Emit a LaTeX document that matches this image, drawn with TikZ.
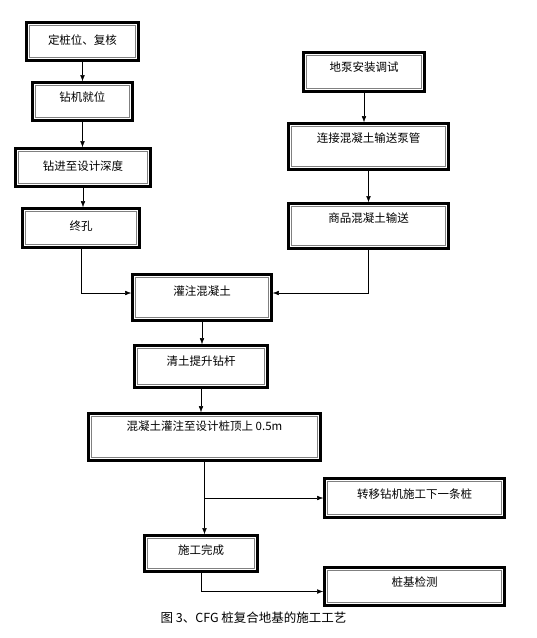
\documentclass[tikz,border=0pt]{standalone}
\usepackage{fontspec}
\newfontfamily\cjk{Noto Sans CJK SC}
\usetikzlibrary{arrows.meta}

\begin{document}
\begin{tikzpicture}[x=1pt, y=-1pt, font=\cjk\fontsize{11.5}{13}\selectfont,
    >={Latex[length=6pt, width=4.5pt]},
    procbox/.style={draw, line width=2.6pt, inner sep=0pt, text height=8.5pt,
      path picture={\draw[black!50, line width=0.9pt]
        ([shift={(3.4pt,3.4pt)}]path picture bounding box.south west) rectangle
        ([shift={(-3.4pt,-3.4pt)}]path picture bounding box.north east);}}]
  \useasboundingbox (0,0) rectangle (537,638);
  % boxes: name/x/y/width/height/text depth/label
  \foreach \n/\x/\y/\w/\h/\d/\t in {
      b1/82.5/41.5/112/38/3/{定桩位、复核},
      b2/82.5/101.5/100/38/8/{钻机就位},
      b3/83/167.5/135/38/3/{钻进至设计深度},
      b4/81/228/117/39/4/{终孔},
      b5/364/72/121/39/9/{地泵安装调试},
      b6/368.5/146.5/160/46/16/{连接混凝土输送泵管},
      b7/368.5/226/160/45/15/{商品混凝土输送},
      b8/202/297.5/139/46/12/{灌注混凝土},
      b9/201/366.5/133/42/10/{清土提升钻杆},
      b10/204.5/437/232/47/21/{混凝土灌注至设计桩顶上 0.5m},
      b11/414.5/498/180/39/7/{转移钻机施工下一条桩},
      b12/201/553.5/113/36/6/{施工完成},
      b13/414.5/586.5/180/38/8/{桩基检测}} {
    \node[procbox, minimum width=\w pt, minimum height=\h pt, text depth=\d pt] (\n) at (\x,\y) {\t};
  }
  % left and right chains
  \draw[->] (b1.south) -- (b1.south |- b2.north);
  \draw[->] (b2.south) -- (b2.south |- b3.north);
  \draw[->] (b3.south) -- (b3.south |- b4.north);
  \draw[->] (b5.south) -- (b5.south |- b6.north);
  \draw[->] (b6.south) -- (b6.south |- b7.north);
  % join into pouring
  \draw[->] (b4.south) |- ([yshift=4.5pt]b8.west);
  \draw[->] (b7.south) |- ([yshift=4.5pt]b8.east);
  \draw[->] (b8.south) -- (b8.south |- b9.north);
  \draw[->] (b9.south) -- (b9.south |- b10.north);
  \draw[->] (b10.south) -- (b10.south |- b12.north);
  \coordinate (br) at (b10.south |- b11.west);
  \draw[->] (br) -- (b11.west);
  \draw[->] (b12.south) |- ([yshift=-5pt]b13.west);
  \node[font=\cjk\fontsize{12.5}{14}\selectfont] (cap) at (253.5,618) {图 3、CFG 桩复合地基的施工工艺};
\end{tikzpicture}
\end{document}
